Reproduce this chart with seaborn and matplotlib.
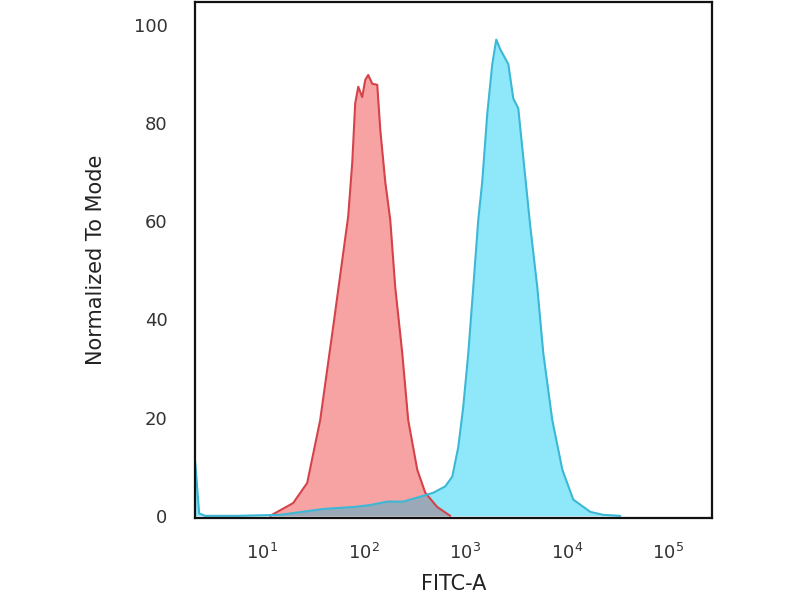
import numpy as np
import pandas as pd
import matplotlib
matplotlib.use("Agg")
import matplotlib.pyplot as plt
import seaborn as sns

# isotype control (red), log10 of FITC-A and % of mode
red_log = [1.079, 1.148, 1.305, 1.443, 1.571, 1.709, 1.847, 1.887, 1.916, 1.946,
           1.985, 2.015, 2.044, 2.084, 2.133, 2.163, 2.212, 2.261, 2.310, 2.379,
           2.438, 2.527, 2.606, 2.724, 2.852]
red_val = [0, 0.8, 2.6, 6.7, 19.5, 40, 61, 72, 84, 87.4,
           85.3, 88.8, 89.8, 88, 87.8, 78.6, 68, 60.3, 46.6, 33.2,
           19.5, 9.4, 4.7, 1.8, 0]

# stained sample (blue)
blue_log = [0.340, 0.379, 0.438, 0.754, 1.177, 1.601, 1.897, 2.064, 2.232, 2.389,
            2.557, 2.685, 2.803, 2.872, 2.931, 2.980, 3.030, 3.079, 3.128, 3.167,
            3.217, 3.266, 3.305, 3.345, 3.424, 3.473, 3.522, 3.640, 3.709, 3.768,
            3.857, 3.956, 4.064, 4.232, 4.360, 4.527]
blue_val = [11, 0.5, 0, 0, 0.2, 1.4, 1.8, 2.2, 2.9, 2.9,
            3.9, 4.7, 6.0, 8.0, 14.0, 22.2, 33.2, 46.6, 60.3, 68,
            82, 92, 97, 95, 92, 85, 83, 59, 46.6, 33.2,
            19.5, 9.4, 3.3, 0.8, 0.2, 0]

x_ticks = [10, 100, 1000, 10000, 100000]
x_ticklabels = ["$10^1$", "$10^2$", "$10^3$", "$10^4$", "$10^5$"]
y_ticks = [0, 20, 40, 60, 80, 100]

red = pd.DataFrame({"x": np.power(10, red_log), "y": red_val})
blue = pd.DataFrame({"x": np.power(10, blue_log), "y": blue_val})

sns.set_style("white")
plt.rcParams["font.family"] = ["DejaVu Sans"]

fig = plt.figure(figsize=(8, 6), dpi=100)
ax = fig.add_axes([0.244, 0.137, 0.646, 0.86])

ax.fill_between(blue["x"], blue["y"], color="#8FE8FA", lw=0)
ax.fill_between(red["x"], red["y"], color="#F8A3A3", lw=0)

# overlap region looks greyish (like a multiply blend)
grid = np.union1d(red_log, blue_log)
grid = grid[(grid >= red_log[0]) & (grid <= red_log[-1])]
ov = np.minimum(np.interp(grid, red_log, red_val), np.interp(grid, blue_log, blue_val))
ax.fill_between(np.power(10, grid), ov, color="#9AA8B8", lw=0)

sns.lineplot(data=red, x="x", y="y", ax=ax, color="#D4424A", lw=1.5, sort=False)
sns.lineplot(data=blue, x="x", y="y", ax=ax, color="#3AB8D6", lw=1.5, sort=False)

ax.set_xscale("log")
ax.set_xlim(10 ** 0.34, 10 ** 5.43)
ax.set_ylim(-0.4, 104.7)
ax.set_xticks(x_ticks)
ax.set_xticklabels(x_ticklabels)
ax.minorticks_off()
ax.set_yticks(y_ticks)
ax.tick_params(axis="both", length=0, labelsize=13, colors="#333333")
ax.tick_params(axis="y", pad=20)
ax.tick_params(axis="x", pad=18)

ax.set_xlabel("FITC-A", fontsize=15, color="#222222", labelpad=8)
ax.set_ylabel("Normalized To Mode", fontsize=15, color="#222222", labelpad=20)

for s in ax.spines.values():
    s.set_visible(True)
    s.set_color("#111111")
    s.set_linewidth(1.6)

fig.savefig("out.png", dpi=100)
